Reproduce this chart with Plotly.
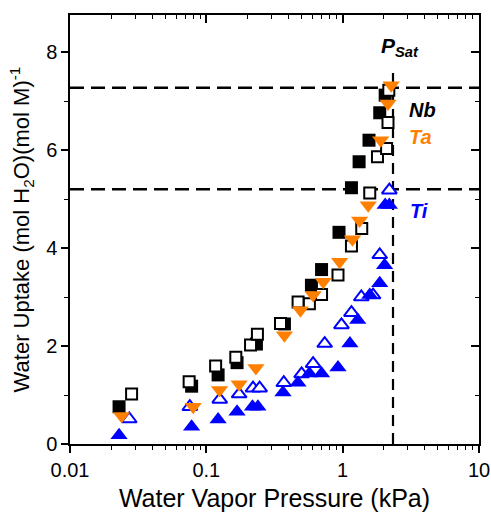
import plotly.graph_objects as go

# ---------------- data ----------------
nb_filled_x = [0.0229, 0.078, 0.122, 0.168, 0.233, 0.374, 0.59, 0.70, 0.94, 1.16, 1.32, 1.56, 1.87, 2.05]
nb_filled_y = [0.76, 1.18, 1.41, 1.66, 2.04, 2.45, 3.24, 3.56, 4.32, 5.23, 5.76, 6.20, 6.76, 7.12]

nb_open_x = [0.0283, 0.0748, 0.117, 0.1645, 0.211, 0.237, 0.35, 0.471, 0.57, 0.70, 0.924, 1.16, 1.38, 1.58, 1.80, 2.10, 2.15, 2.18]
nb_open_y = [1.02, 1.27, 1.59, 1.77, 2.02, 2.24, 2.46, 2.90, 2.86, 3.05, 3.45, 4.04, 4.40, 5.12, 5.86, 6.03, 6.56, 7.22]

ta_x = [0.0239, 0.0801, 0.125, 0.174, 0.231, 0.374, 0.49, 0.607, 0.72, 0.95, 1.18, 1.33, 1.54, 1.90, 2.15, 2.27]
ta_y = [0.57, 0.76, 1.10, 1.22, 1.55, 2.22, 2.73, 3.04, 3.31, 3.72, 4.18, 4.56, 4.87, 6.20, 6.95, 7.32]

ti_open_x = [0.0272, 0.0757, 0.1254, 0.174, 0.22, 0.246, 0.37, 0.50, 0.607, 0.738, 0.98, 1.16, 1.37, 1.67, 1.87, 2.2]
ti_open_y = [0.51, 0.76, 0.91, 1.02, 1.14, 1.14, 1.25, 1.43, 1.64, 2.05, 2.43, 2.68, 3.00, 3.04, 3.86, 5.18]

ti_filled_x = [0.0229, 0.078, 0.122, 0.168, 0.218, 0.239, 0.365, 0.47, 0.57, 0.70, 0.924, 1.13, 1.29, 1.58, 1.87, 2.03, 2.05, 2.2]
ti_filled_y = [0.18, 0.35, 0.50, 0.66, 0.76, 0.76, 1.05, 1.25, 1.44, 1.44, 1.56, 2.05, 2.53, 3.04, 3.28, 3.65, 4.88, 4.88]

sat_levels = [7.27, 5.20]        # saturation uptake levels (dashed horizontals)
psat = 2.34                      # kPa
psat_line_top = 7.65

x_range_log = [-2, 1]
y_range = [0, 8.755]
x_tickvals = [0.01, 0.1, 1, 10]
x_ticktext = ["0.01", "0.1", "1", "10"]
x_minor = [m * d for d in (0.01, 0.1, 1) for m in range(2, 10)]

ORANGE = "#FF8000"
BLUE = "#0000FF"
FONT = "Arial, Liberation Sans, sans-serif"

fig = go.Figure()

# dashed reference lines
for lvl in sat_levels:
    fig.add_trace(go.Scatter(x=[0.01, 10], y=[lvl, lvl], mode="lines",
                             line=dict(color="black", width=2.5, dash="14px,7px"),
                             hoverinfo="skip", showlegend=False))
fig.add_trace(go.Scatter(x=[psat, psat], y=[0, psat_line_top], mode="lines",
                         line=dict(color="black", width=2.2, dash="11px,7px"),
                         hoverinfo="skip", showlegend=False))

fig.add_trace(go.Scatter(x=nb_filled_x, y=nb_filled_y, mode="markers", name="Nb",
                         marker=dict(symbol="square", size=13, color="black", line=dict(width=0)),
                         showlegend=False))
fig.add_trace(go.Scatter(x=nb_open_x, y=nb_open_y, mode="markers", name="Nb open",
                         marker=dict(symbol="square", size=11, color="white", line=dict(color="black", width=2)),
                         showlegend=False))
fig.add_trace(go.Scatter(x=ti_open_x, y=ti_open_y, mode="markers", name="Ti open",
                         marker=dict(symbol="triangle-up", size=13, color="white", line=dict(color=BLUE, width=2)),
                         showlegend=False))
fig.add_trace(go.Scatter(x=ti_filled_x, y=ti_filled_y, mode="markers", name="Ti",
                         marker=dict(symbol="triangle-up", size=15, color=BLUE, line=dict(width=0)),
                         showlegend=False))
fig.add_trace(go.Scatter(x=ta_x, y=ta_y, mode="markers", name="Ta",
                         marker=dict(symbol="triangle-down", size=15, color=ORANGE, line=dict(width=0)),
                         showlegend=False))

# invisible trace for mirrored (top/right) axes
fig.add_trace(go.Scatter(x=[0.01, 10], y=[0, 8], xaxis="x2", yaxis="y2", mode="markers",
                         marker=dict(opacity=0), hoverinfo="skip", showlegend=False))

axis_common = dict(showgrid=False, zeroline=False, showline=True, linecolor="black", linewidth=1.5,
                   automargin=False)

fig.update_layout(
    width=491, height=512,
    margin=dict(l=70, r=12, t=15, b=68),
    paper_bgcolor="white", plot_bgcolor="white",
    font=dict(family=FONT, color="black", size=20),
    xaxis=dict(type="log", range=x_range_log, tickmode="array", tickvals=x_tickvals, ticktext=x_ticktext,
               ticks="outside", ticklen=7, tickwidth=1.5, tickcolor="black",
               minor=dict(tickmode="array", tickvals=x_minor, ticks="outside", ticklen=4, tickwidth=1.2, tickcolor="black"),
               tickfont=dict(size=20),
               title=dict(text="Water Vapor Pressure (kPa)", font=dict(size=25), standoff=11),
               **axis_common),
    yaxis=dict(range=y_range, tickmode="linear", tick0=0, dtick=2,
               ticks="outside", ticklen=7, tickwidth=1.5, tickcolor="black",
               minor=dict(dtick=1, ticks="outside", ticklen=4, tickwidth=1.2, tickcolor="black"),
               tickfont=dict(size=20),
               title=dict(text="Water Uptake (mol H<sub>2</sub>O)(mol M)<sup>-1</sup>", font=dict(size=22), standoff=10),
               **axis_common),
    xaxis2=dict(type="log", range=x_range_log, overlaying="x", side="top", tickmode="array", tickvals=x_tickvals,
                showticklabels=False, ticks="inside", ticklen=8, tickwidth=1.5, tickcolor="black",
                minor=dict(tickmode="array", tickvals=x_minor, ticks="inside", ticklen=4, tickwidth=1.2, tickcolor="black"),
                **axis_common),
    yaxis2=dict(range=y_range, overlaying="y", side="right", tickmode="linear", tick0=0, dtick=2,
                showticklabels=False, ticks="inside", ticklen=8, tickwidth=1.5, tickcolor="black",
                minor=dict(dtick=1, ticks="inside", ticklen=4, tickwidth=1.2, tickcolor="black"),
                **axis_common),
    showlegend=False,
)

labels = [
    ("<b><i>P</i></b><sub><b><i>Sat</i></b></sub>", 0.806, 47, "black", 21),
    ("<b><i>Nb</i></b>", 0.863, 110, "black", 20),
    ("<b><i>Ta</i></b>", 0.858, 137, ORANGE, 20),
    ("<b><i>Ti</i></b>", 0.853, 211, BLUE, 20),
]
for text, xp, ypx, col, fs in labels:
    fig.add_annotation(text=text, x=xp, xref="paper", y=(444 - ypx) / 49, yref="y",
                       xanchor="center", yanchor="middle",
                       showarrow=False, font=dict(color=col, size=fs, family=FONT))

fig.write_html("out.html", config={"displayModeBar": False},
               post_script="document.body.style.margin='0';document.body.style.overflow='hidden';")
